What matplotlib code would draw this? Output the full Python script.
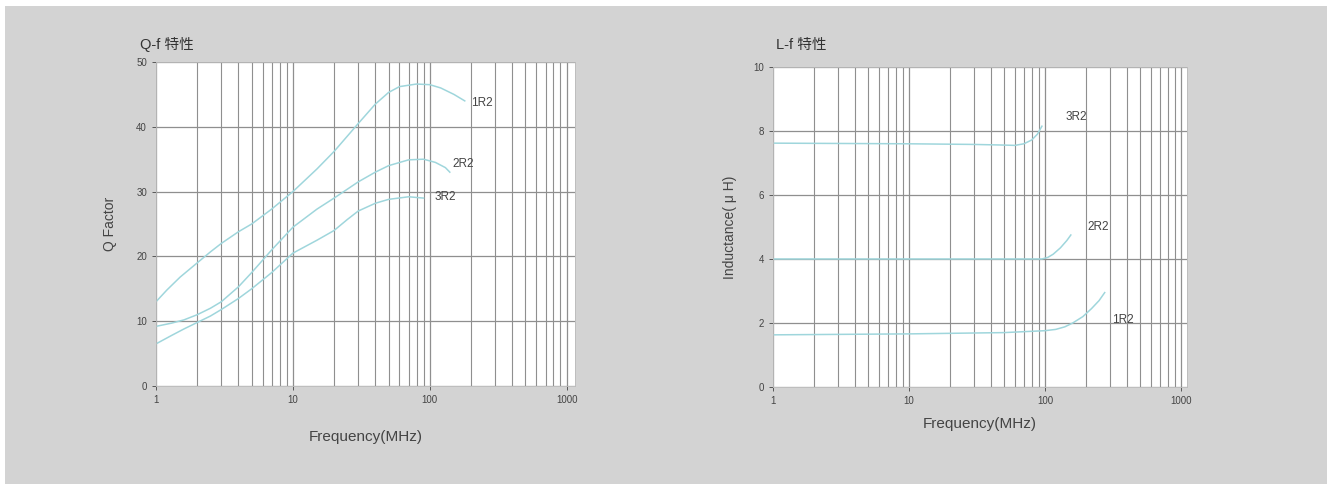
import numpy as np
import matplotlib
matplotlib.use("Agg")
import matplotlib.pyplot as plt
from matplotlib.ticker import LogLocator, FixedLocator, NullFormatter

plt.rcParams['font.family'] = ['Liberation Sans', 'Noto Sans CJK SC', 'DejaVu Sans']

# Q-f data (frequency MHz, Q)
q_f_1r2 = [1, 1.2, 1.5, 2, 2.5, 3, 4, 5, 7, 10, 15, 20, 30, 40, 50, 60, 80, 100, 120, 150, 180]
q_1r2 = [13, 14.8, 16.8, 19, 20.7, 22, 23.8, 25, 27.3, 30, 33.5, 36.2, 40.5, 43.5, 45.3, 46.2,
         46.6, 46.5, 46, 45, 44]
q_f_2r2 = [1, 1.3, 1.6, 2, 2.5, 3, 4, 5, 7, 10, 15, 20, 30, 40, 50, 70, 90, 110, 130, 140]
q_2r2 = [9.2, 9.7, 10.2, 11, 12, 13, 15.3, 17.5, 21, 24.5, 27.3, 29, 31.5, 33, 34, 34.9, 35,
         34.5, 33.7, 33]
q_f_3r2 = [1, 1.3, 1.6, 2, 2.5, 3, 4, 5, 7, 10, 15, 20, 25, 30, 40, 50, 70, 90]
q_3r2 = [6.5, 7.8, 8.8, 9.8, 10.8, 11.8, 13.5, 15, 17.5, 20.5, 22.5, 24, 25.7, 27, 28.2, 28.8,
         29.2, 29]

# L-f data (frequency MHz, inductance uH)
l_f_3r2 = [1, 10, 30, 50, 60, 70, 80, 88, 95]
l_3r2 = [7.62, 7.6, 7.58, 7.56, 7.55, 7.6, 7.72, 7.9, 8.15]
l_f_2r2 = [1, 10, 50, 95, 105, 115, 130, 145, 155]
l_2r2 = [4.0, 4.0, 4.0, 4.0, 4.05, 4.15, 4.35, 4.58, 4.75]
l_f_1r2 = [1, 10, 50, 100, 120, 140, 160, 190, 220, 250, 275]
l_1r2 = [1.63, 1.66, 1.7, 1.76, 1.8, 1.88, 2.0, 2.2, 2.45, 2.7, 2.95]

labels = ['1R2', '2R2', '3R2']
q_label_pos = [(240, 43.7), (175, 34.3), (130, 29.2)]
l_label_pos = [(375, 2.1), (245, 5.0), (170, 8.45)]

line_c = '#9fd6dc'
grid_c = '#8f8f8f'
text_c = '#444444'

fig = plt.figure(figsize=(13.32, 4.84), dpi=100)
fig.patch.set_facecolor('white')
bg = fig.add_axes([0.004, 0, 0.992, 0.988])
bg.set_facecolor('#d3d3d3')
bg.set_xticks([]); bg.set_yticks([])
for s in bg.spines.values():
    s.set_visible(False)

ax1 = fig.add_axes([0.1171, 0.2025, 0.3146, 0.6694])
ax2 = fig.add_axes([0.5803, 0.2004, 0.3108, 0.6612])


def style(ax, xmax, ymax, ystep):
    ax.set_facecolor('white')
    ax.set_xscale('log')
    ax.set_xlim(1, xmax)
    ax.set_ylim(0, ymax)
    ax.xaxis.set_major_locator(FixedLocator([1, 10, 100, 1000]))
    ax.set_xticklabels(['1', '10', '100', '1000'])
    ax.xaxis.set_minor_locator(LogLocator(base=10, subs=np.arange(2, 10)))
    ax.xaxis.set_minor_formatter(NullFormatter())
    ax.set_yticks(np.arange(0, ymax + 0.1, ystep))
    ax.grid(which='major', axis='both', color=grid_c, lw=0.9)
    ax.grid(which='minor', axis='x', color=grid_c, lw=0.8)
    for s in ax.spines.values():
        s.set_color('#bbbbbb')
        s.set_linewidth(0.6)
    ax.tick_params(axis='both', which='major', labelsize=7, colors=text_c,
                   length=3, width=0.6)
    ax.tick_params(axis='x', which='minor', length=0)
    ax.set_axisbelow(True)


style(ax1, 1150, 50, 10)
style(ax2, 1107, 10, 2)

ax1.plot(q_f_1r2, q_1r2, color=line_c, lw=1.1)
ax1.plot(q_f_2r2, q_2r2, color=line_c, lw=1.1)
ax1.plot(q_f_3r2, q_3r2, color=line_c, lw=1.1)
for lab, (x, y) in zip(labels, q_label_pos):
    ax1.text(x, y, lab, fontsize=8.5, color=text_c, ha='center', va='center')

ax2.plot(l_f_3r2, l_3r2, color=line_c, lw=1.1)
ax2.plot(l_f_2r2, l_2r2, color=line_c, lw=1.1)
ax2.plot(l_f_1r2, l_1r2, color=line_c, lw=1.1)
for lab, (x, y) in zip(labels, l_label_pos):
    ax2.text(x, y, lab, fontsize=8.5, color=text_c, ha='center', va='center')

ax1.set_xlabel('Frequency(MHz)', fontsize=11, color=text_c, labelpad=18)
ax1.set_ylabel('Q Factor', fontsize=10, color=text_c, labelpad=14)
ax2.set_xlabel('Frequency(MHz)', fontsize=11, color=text_c, labelpad=8)
ax2.set_ylabel('Inductance( μ H)', fontsize=10, color=text_c, labelpad=12)

fig.text(140 / 1332, 1 - 45 / 484, 'Q-f 特性', fontsize=10.5, color='#333333',
         ha='left', va='center')
fig.text(776 / 1332, 1 - 45 / 484, 'L-f 特性', fontsize=10.5, color='#333333',
         ha='left', va='center')

fig.savefig('out.png', dpi=100)
